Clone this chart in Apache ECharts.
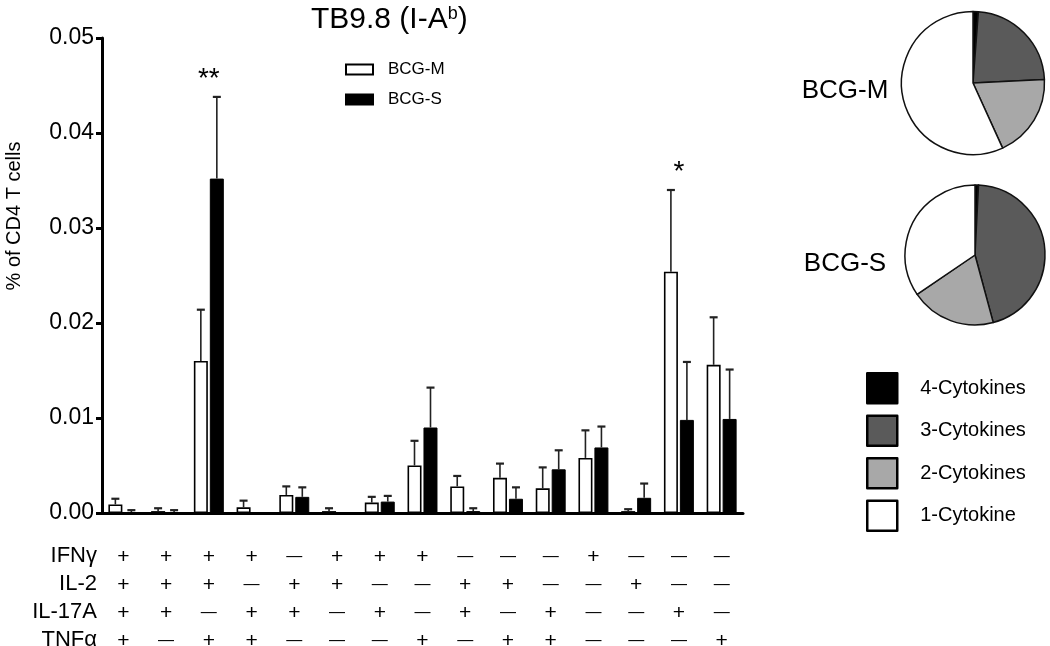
<!DOCTYPE html>
<html><head><meta charset="utf-8">
<script src="https://cdn.jsdelivr.net/npm/echarts@6/dist/echarts.min.js"></script>
<style>html,body{margin:0;padding:0;background:#fff}#c{width:1050px;height:646px}</style>
</head><body><div id="c"></div>
<script>
// ---- data ----
const categories = ['1','2','3','4','5','6','7','8','9','10','11','12','13','14','15'];
const ifng  = ['+','+','+','+','-','+','+','+','-','-','-','+','-','-','-'];
const il2   = ['+','+','+','-','+','+','-','-','+','+','-','-','+','-','-'];
const il17a = ['+','+','-','+','+','-','+','-','+','-','+','-','-','+','-'];
const tnfa  = ['+','-','+','+','-','-','-','+','-','+','+','-','-','-','+'];
const rowLabels = ['IFNγ','IL-2','IL-17A','TNFα'];
const bcgM    = [0.0009,0.0002,0.0160,0.0006,0.0019,0.0002,0.0011,0.0050,0.0028,0.0037,0.0026,0.0058,0.0002,0.0254,0.0156];
const bcgMSem = [0.0006,0.0003,0.0054,0.0007,0.0009,0.0003,0.0006,0.0026,0.0011,0.0015,0.0022,0.0029,0.0002,0.0086,0.0050];
const bcgS    = [0.0001,0.0001,0.0352,0,0.0017,0,0.0012,0.0090,0.0002,0.0015,0.0046,0.0069,0.0016,0.0098,0.0099];
const bcgSSem = [0.0002,0.0002,0.0086,0,0.0010,0,0.0006,0.0042,0.0003,0.0012,0.0020,0.0022,0.0015,0.0061,0.0052];
const sigLabels = ['','','**','','','','','','','','','','','*',''];
const yTicks = [0,0.01,0.02,0.03,0.04,0.05];
const pieNames = ['4-Cytokines','3-Cytokines','2-Cytokines','1-Cytokine'];
const pieM = [1.2, 23.0, 19.0, 56.8];
const pieS = [0.8, 45.0, 19.7, 34.5];
const pieColors = ['#000000','#5a5a5a','#a8a8a8','#ffffff'];

// ---- chart ----
const FONT = 'Liberation Sans, Arial, Helvetica, sans-serif';
const BAR_OFF = 8;
const chart = echarts.init(document.getElementById('c'), null, {renderer:'canvas'});

function sign(s){ return s === '+' ? '{p|+}' : '{m|—}'; }
function errRender(offset){
  return function(params, api){
    const i = api.value(0), m = api.value(1), e = api.value(2);
    if (!e) return null;
    const base = api.coord([i, m]);
    const top = api.coord([i, m + e]);
    const x = base[0] + offset;
    return {type:'group', children:[
      {type:'line', shape:{x1:x, y1:base[1], x2:x, y2:top[1]}, style:{stroke:'#222', lineWidth:1.6}},
      {type:'line', shape:{x1:x-4, y1:top[1], x2:x+4, y2:top[1]}, style:{stroke:'#222', lineWidth:2.2}}
    ]};
  };
}
const pieData = arr => arr.map((v,k)=>({name:pieNames[k], value:v, itemStyle:{color:pieColors[k]}}));

const option = {
  backgroundColor:'#fff',
  animation:false,
  textStyle:{fontFamily:FONT, color:'#000'},
  title:{
    text:'{a|TB9.8 (I-A}{b|b}{a|)}', left:306, top:0,
    textStyle:{fontWeight:'normal', rich:{
      a:{fontSize:30, fontFamily:FONT, fontWeight:'normal', color:'#000', lineHeight:30},
      b:{fontSize:18, fontFamily:FONT, fontWeight:'normal', color:'#000', verticalAlign:'top', lineHeight:18}
    }}
  },
  legend:[
    {data:['BCG-M','BCG-S'], left:340, top:56, orient:'vertical', itemWidth:27, itemHeight:10, itemGap:13,
     icon:'rect', selectedMode:false, textStyle:{fontSize:17, fontFamily:FONT, color:'#000', padding:[0,0,0,10]}},
    {data:pieNames, left:861, top:367, orient:'vertical', itemWidth:30, itemHeight:30, itemGap:10,
     icon:'rect', selectedMode:false, itemStyle:{borderColor:'#000', borderWidth:2.5},
     textStyle:{fontSize:20, fontFamily:FONT, color:'#000', padding:[0,0,0,18]}}
  ],
  grid:{left:102, right:307, top:38, bottom:133, containLabel:false, outerBoundsMode:'none'},
  xAxis:{
    type:'category', data:categories,
    axisLine:{lineStyle:{color:'#000', width:3}},
    axisTick:{alignWithLabel:true, length:7, lineStyle:{color:'#000', width:3}},
    axisLabel:{
      margin:30, interval:0,
      formatter:(v, idx) => [ifng[idx], il2[idx], il17a[idx], tnfa[idx]].map(sign).join('\n'),
      rich:{
        p:{fontSize:21, fontFamily:FONT, color:'#000', lineHeight:28},
        m:{fontSize:16, fontFamily:FONT, color:'#000', lineHeight:28}
      }
    }
  },
  yAxis:{
    type:'value', min:yTicks[0], max:yTicks[yTicks.length-1], interval:0.01,
    splitLine:{show:false},
    axisLine:{show:true, lineStyle:{color:'#000', width:3}},
    axisTick:{show:true, length:6, lineStyle:{color:'#000', width:3}},
    axisLabel:{fontSize:23, fontFamily:FONT, color:'#000', margin:8, formatter:v=>v.toFixed(2)}
  },
  series:[
    {name:'BCG-M', type:'bar', data:bcgM, barWidth:14, barGap:'14%',
     itemStyle:{color:'#fff', borderColor:'#000', borderWidth:1.6}},
    {name:'BCG-S', type:'bar', data:bcgS, barWidth:14,
     itemStyle:{color:'#000', borderColor:'#000', borderWidth:1}},
    {name:'errM', type:'custom', renderItem:errRender(-BAR_OFF), encode:{x:0, y:[1,2]},
     data:bcgM.map((v,i)=>[i, v, bcgMSem[i]]), z:3},
    {name:'errS', type:'custom', renderItem:errRender(BAR_OFF), encode:{x:0, y:[1,2]},
     data:bcgS.map((v,i)=>[i, v, bcgSSem[i]]), z:3},
    {name:'sig', type:'custom', encode:{x:0, y:1},
     data:bcgM.map((v,i)=>[i, Math.max(v + bcgMSem[i], bcgS[i] + bcgSSem[i])]),
     renderItem:(params, api)=>{
       const t = sigLabels[params.dataIndex];
       if (!t) return null;
       const p = api.coord([api.value(0), api.value(1)]);
       return {type:'text', x:p[0], y:p[1]-18,
         style:{text:t, font:'28px ' + FONT, align:'center', verticalAlign:'middle',
                textAlign:'center', textVerticalAlign:'middle', fill:'#000'}};
     }},
    {name:'pieM', type:'pie', center:[973,83], radius:71.5, startAngle:90, clockwise:true,
     label:{show:false}, labelLine:{show:false}, silent:true,
     itemStyle:{borderColor:'#111', borderWidth:1.5}, data:pieData(pieM)},
    {name:'pieS', type:'pie', center:[975,255], radius:70, startAngle:90, clockwise:true,
     label:{show:false}, labelLine:{show:false}, silent:true,
     itemStyle:{borderColor:'#111', borderWidth:1.5}, data:pieData(pieS)}
  ],
  graphic:[
    ...rowLabels.map((t,k)=>({type:'text', x:97, y:556 + 28*k,
      style:{text:t, font:'22px ' + FONT, fill:'#000', align:'right', verticalAlign:'middle',
             textAlign:'right', textVerticalAlign:'middle'}})),
    {type:'text', x:14, y:216, rotation:Math.PI/2,
     style:{text:'% of CD4 T cells', font:'20px ' + FONT, fill:'#000', align:'center', verticalAlign:'middle',
            textAlign:'center', textVerticalAlign:'middle'}},
    {type:'text', x:845, y:91,
     style:{text:'BCG-M', font:'26px ' + FONT, fill:'#000', align:'center', verticalAlign:'middle',
            textAlign:'center', textVerticalAlign:'middle'}},
    {type:'text', x:845, y:264,
     style:{text:'BCG-S', font:'26px ' + FONT, fill:'#000', align:'center', verticalAlign:'middle',
            textAlign:'center', textVerticalAlign:'middle'}}
  ]
};
chart.setOption(option);
</script></body></html>
